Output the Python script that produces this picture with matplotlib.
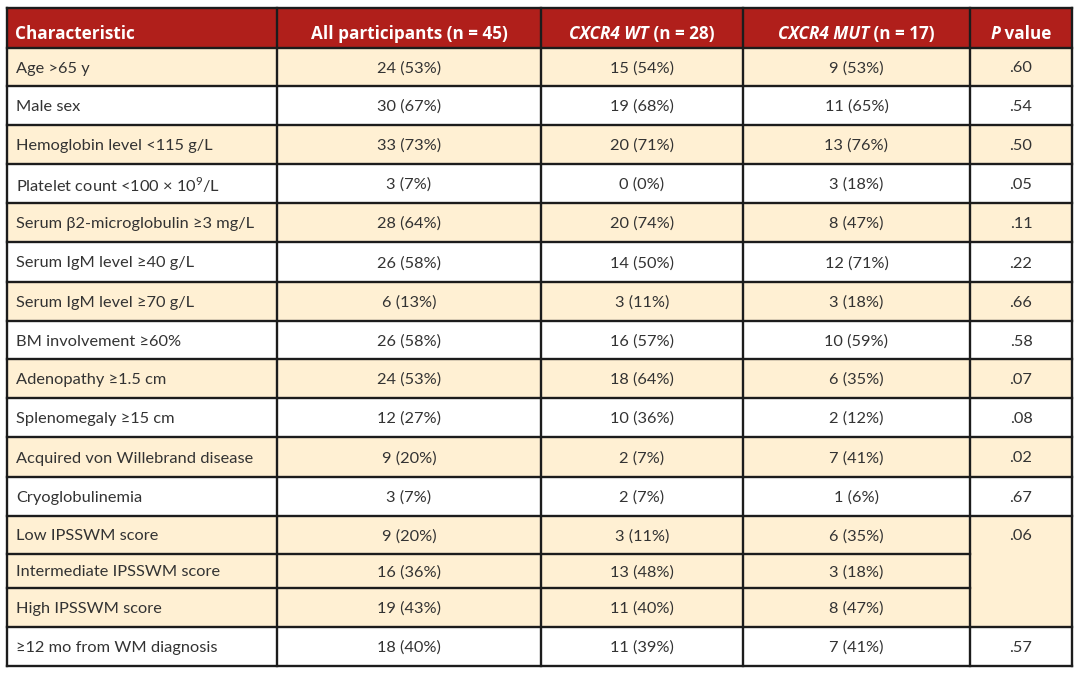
import matplotlib
matplotlib.use("Agg")
import matplotlib.pyplot as plt
from matplotlib.patches import Rectangle

plt.rcParams["font.family"] = ["Lato", "DejaVu Sans"]
plt.rcParams["mathtext.fontset"] = "custom"
plt.rcParams["mathtext.rm"] = "Lato"

# ---- table content ----
# header cells as (text, italic) pieces
headers = [
    [("Characteristic", False)],
    [("All participants (n = 45)", False)],
    [("CXCR4 WT", True), (" (n = 28)", False)],
    [("CXCR4 MUT", True), (" (n = 17)", False)],
    [("P", True), (" value", False)],
]
characteristics = [
    "Age >65 y",
    "Male sex",
    "Hemoglobin level <115 g/L",
    "Platelet count <100 × $10^9$/L",
    "Serum β2-microglobulin ≥3 mg/L",
    "Serum IgM level ≥40 g/L",
    "Serum IgM level ≥70 g/L",
    "BM involvement ≥60%",
    "Adenopathy ≥1.5 cm",
    "Splenomegaly ≥15 cm",
    "Acquired von Willebrand disease",
    "Cryoglobulinemia",
    "Low IPSSWM score",
    "Intermediate IPSSWM score",
    "High IPSSWM score",
    "≥12 mo from WM diagnosis",
]
all_participants = ["24 (53%)", "30 (67%)", "33 (73%)", "3 (7%)", "28 (64%)", "26 (58%)",
                    "6 (13%)", "26 (58%)", "24 (53%)", "12 (27%)", "9 (20%)", "3 (7%)",
                    "9 (20%)", "16 (36%)", "19 (43%)", "18 (40%)"]
cxcr4_wt = ["15 (54%)", "19 (68%)", "20 (71%)", "0 (0%)", "20 (74%)", "14 (50%)",
            "3 (11%)", "16 (57%)", "18 (64%)", "10 (36%)", "2 (7%)", "2 (7%)",
            "3 (11%)", "13 (48%)", "11 (40%)", "11 (39%)"]
cxcr4_mut = ["9 (53%)", "11 (65%)", "13 (76%)", "3 (18%)", "8 (47%)", "12 (71%)",
             "3 (18%)", "10 (59%)", "6 (35%)", "2 (12%)", "7 (41%)", "1 (6%)",
             "6 (35%)", "3 (18%)", "8 (47%)", "7 (41%)"]
p_values = [".60", ".54", ".50", ".05", ".11", ".22", ".66", ".58", ".07", ".08",
            ".02", ".67", ".06", None, None, ".57"]
shaded = [1, 0, 1, 0, 1, 0, 1, 0, 1, 0, 1, 0, 1, 1, 1, 0]
# rows 12..14 share one P value cell
merged_p = (12, 14)

# ---- layout (pixels) ----
col_edges = [7, 277, 541, 743, 970, 1072]
top = 8
header_h = 40
row_h = [38, 39, 39, 39, 39, 40, 39, 38, 39, 39, 40, 39, 38, 34, 39, 39]

HEADER_RED = "#B01F1B"
BEIGE = "#FFF0D3"
LINE = "#1c1c1c"
TEXT = "#333333"
BODY_SIZE = 11.8
HEAD_SIZE = 12.3
HEAD_FONT = ["Open Sans", "DejaVu Sans"]

fig = plt.figure(figsize=(10.8, 6.75), dpi=100)
ax = fig.add_axes([0, 0, 1, 1])
ax.set_xlim(0, 1080)
ax.set_ylim(675, 0)
ax.axis("off")
renderer = fig.canvas.get_renderer()

left, right = col_edges[0], col_edges[-1]


def header_cell(pieces, x, yc, centered):
    """Draw a header cell made of upright/italic pieces, left-aligned or centered."""
    texts = []
    for s, it in pieces:
        t = ax.text(0, yc, s, ha="left", va="center", color="white",
                    fontsize=HEAD_SIZE, fontweight="bold", family=HEAD_FONT,
                    fontstyle="italic" if it else "normal")
        texts.append(t)
    widths = [t.get_window_extent(renderer).width for t in texts]
    x0 = x - sum(widths) / 2 if centered else x
    for t, w in zip(texts, widths):
        t.set_x(x0)
        x0 += w


# header (text sits low in the red band, as in the source)
ax.add_patch(Rectangle((left, top), right - left, header_h, color=HEADER_RED, lw=0))
for i, h in enumerate(headers):
    yc = top + header_h / 2 + 6
    if i == 0:
        header_cell(h, left + 8, yc, centered=False)
    else:
        header_cell(h, (col_edges[i] + col_edges[i + 1]) / 2, yc, centered=True)

# body rows
row_tops = []
y = top + header_h
for h in row_h:
    row_tops.append(y)
    y += h
bottom = y

for r in range(len(characteristics)):
    y0, h = row_tops[r], row_h[r]
    if shaded[r]:
        ax.add_patch(Rectangle((left, y0), right - left, h, color=BEIGE, lw=0))
    yc = y0 + h / 2 + 1.5
    ax.text(left + 9, yc, characteristics[r], ha="left", va="center",
            color=TEXT, fontsize=BODY_SIZE)
    for c, col in enumerate([all_participants, cxcr4_wt, cxcr4_mut], start=1):
        xc = (col_edges[c] + col_edges[c + 1]) / 2
        ax.text(xc, yc, col[r], ha="center", va="center", color=TEXT, fontsize=BODY_SIZE)
    if p_values[r] is not None:
        xc = (col_edges[4] + col_edges[5]) / 2
        ax.text(xc, yc, p_values[r], ha="center", va="center", color=TEXT, fontsize=BODY_SIZE)

# grid lines
lw = 1.7
ax.plot([left, right], [top, top], color=LINE, lw=lw, solid_capstyle="projecting")
ax.plot([left, right], [top + header_h, top + header_h], color=LINE, lw=lw)
for r in range(1, len(characteristics)):
    yb = row_tops[r]
    if merged_p[0] < r <= merged_p[1]:
        ax.plot([left, col_edges[4]], [yb, yb], color=LINE, lw=lw)
    else:
        ax.plot([left, right], [yb, yb], color=LINE, lw=lw)
ax.plot([left, right], [bottom, bottom], color=LINE, lw=lw, solid_capstyle="projecting")
for xe in col_edges:
    ax.plot([xe, xe], [top, bottom], color=LINE, lw=lw, solid_capstyle="projecting")

fig.savefig("out.png", dpi=100)
